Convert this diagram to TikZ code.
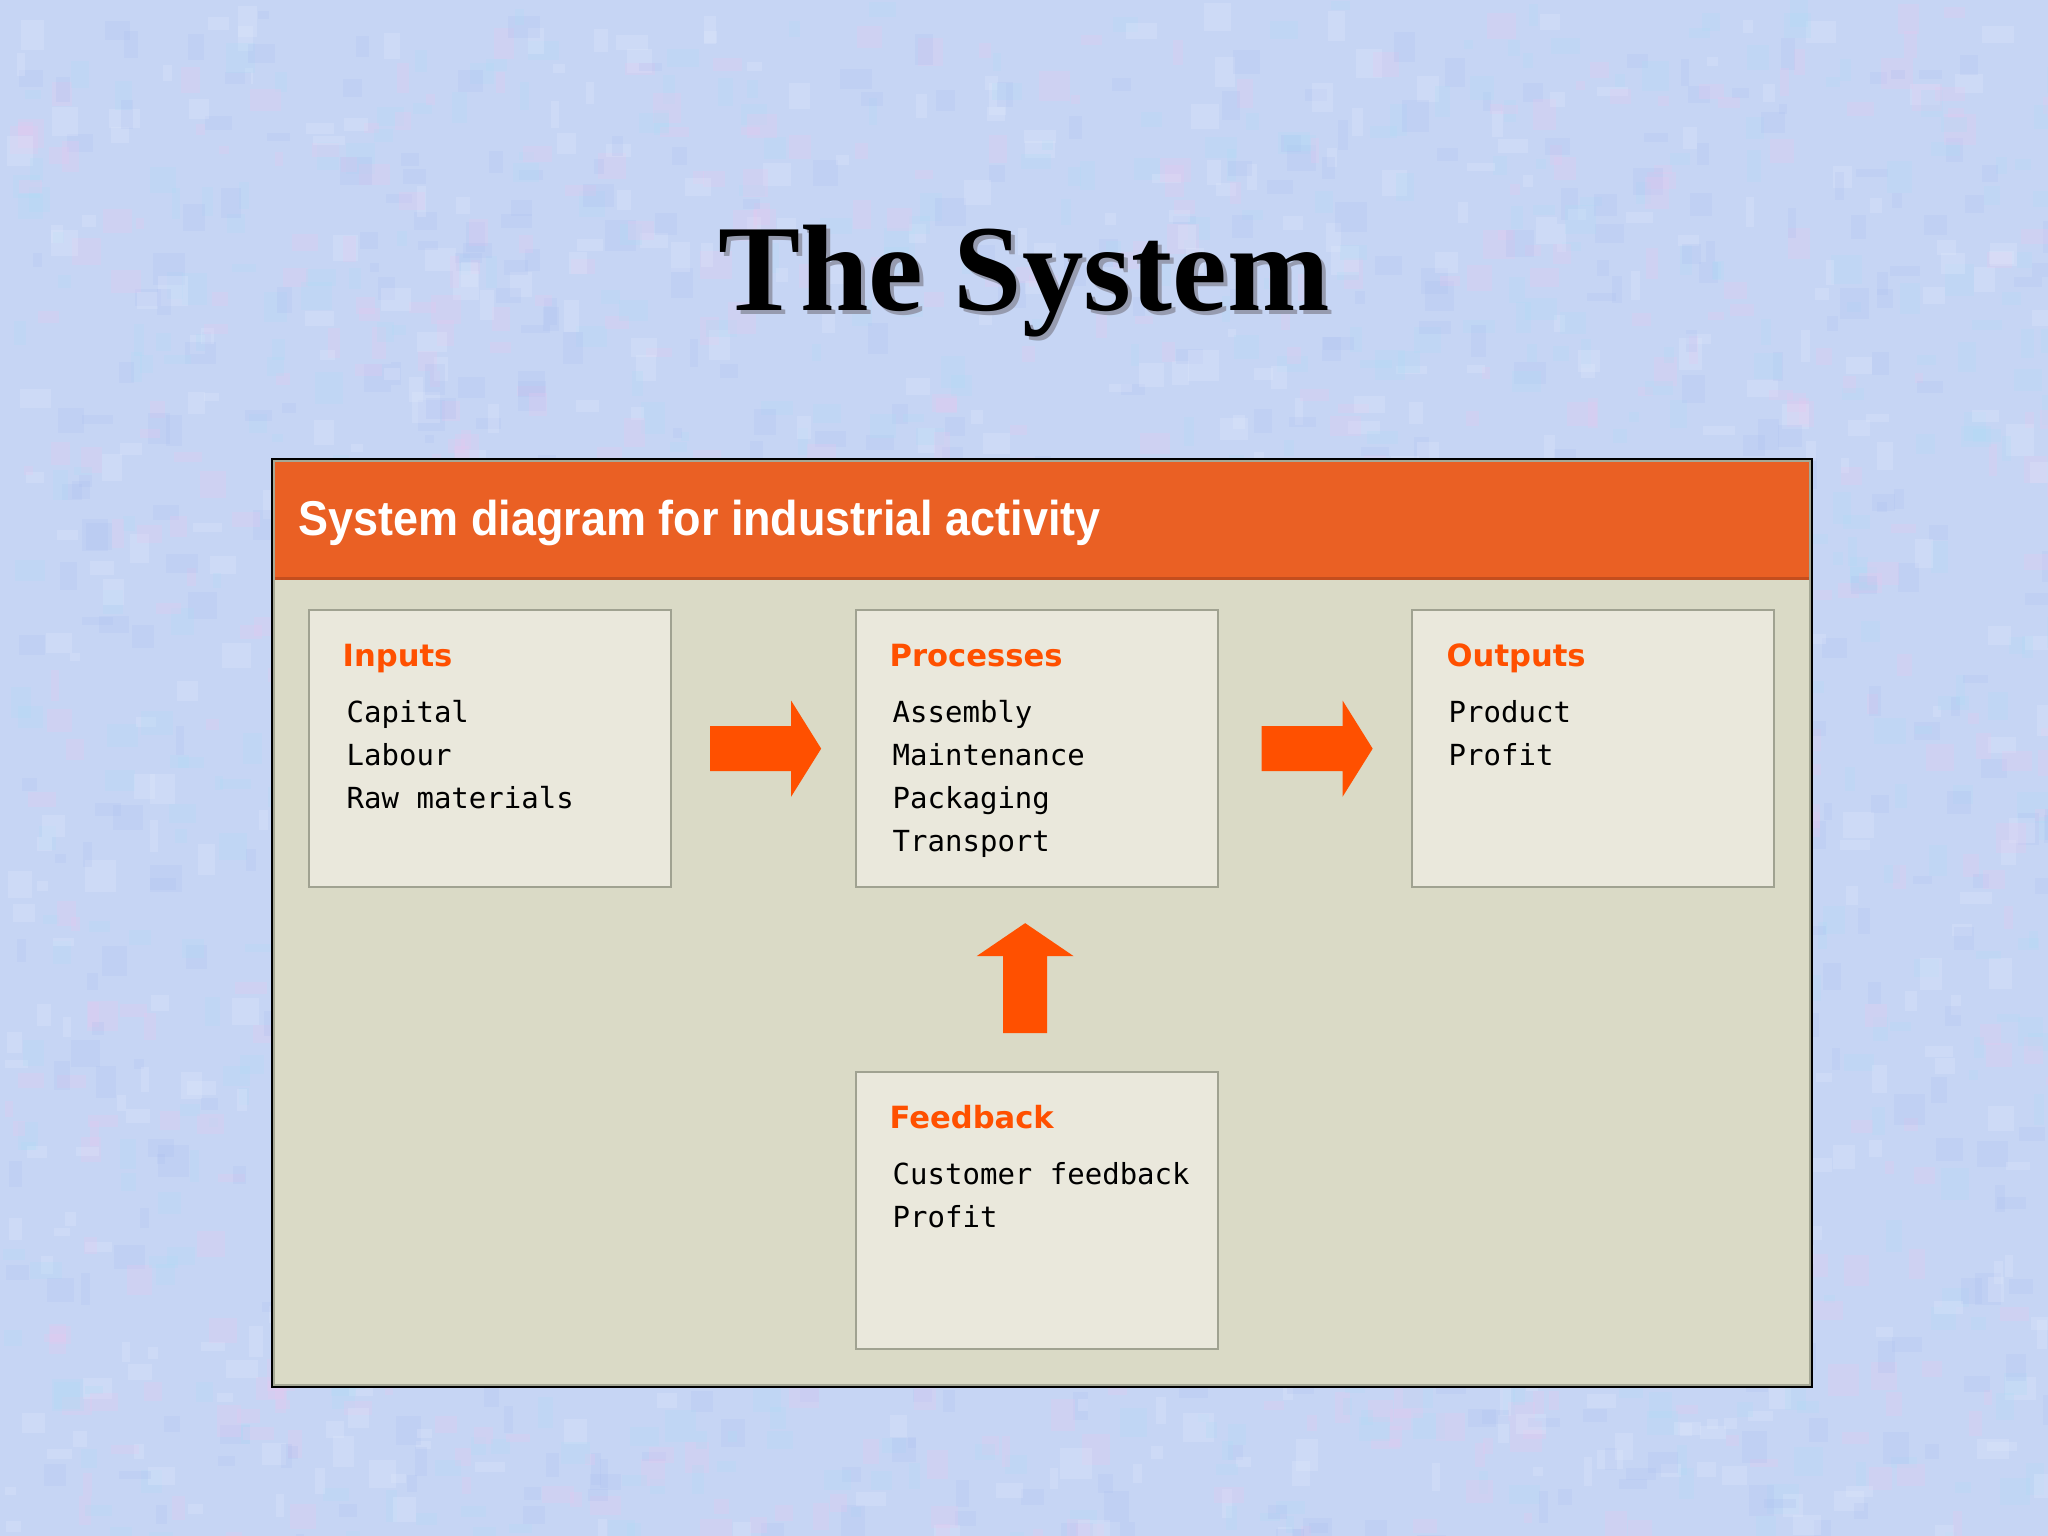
\documentclass[tikz,border=0pt]{standalone}
\usepackage{fontspec}
\usetikzlibrary{calc}
\newfontfamily\titlefam{Liberation Serif}
\newfontfamily\hdrfam{Liberation Sans}
\newfontfamily\headfam{DejaVu Sans}
\newfontfamily\itemfam{DejaVu Sans Mono}
\definecolor{bgcol}{RGB}{198,213,244}
\definecolor{texA}{RGB}{232,200,240}
\definecolor{texB}{RGB}{175,220,245}
\definecolor{texC}{RGB}{170,188,240}
\definecolor{texD}{RGB}{228,234,252}
\definecolor{hdrcol}{RGB}{234,96,36}
\definecolor{hdrline}{RGB}{196,78,30}
\definecolor{panelcol}{RGB}{218,218,198}
\definecolor{panelin}{RGB}{165,168,150}
\definecolor{boxfill}{RGB}{234,232,220}
\definecolor{boxline}{RGB}{160,162,145}
\definecolor{orangetxt}{RGB}{255,80,0}
\definecolor{arrowcol}{RGB}{255,80,0}
\definecolor{shadowcol}{RGB}{150,155,175}
\begin{document}
\begin{tikzpicture}[x=0.01cm,y=-0.01cm,
  sbox/.style={draw=boxline, fill=boxfill, line width=0.6pt, minimum width=3.62cm, minimum height=2.77cm, inner sep=0pt, anchor=north west},
  headtxt/.style={anchor=base west, inner sep=0pt, text=orangetxt, font=\headfam\bfseries\fontsize{8.7}{10}\selectfont},
  itemtxt/.style={anchor=base west, inner sep=0pt, text=black, font=\itemfam\fontsize{8.25}{10}\selectfont},
  arrowfill/.style={fill=arrowcol, draw=none}]
\useasboundingbox (0,0) rectangle (2048,1536);
\fill[bgcol] (0,0) rectangle (2048,1536);
\pgfmathsetseed{11}
\foreach \i in {1,...,2600}{
  \pgfmathsetmacro{\rx}{random(0,2048)}
  \pgfmathsetmacro{\ry}{random(0,1536)}
  \pgfmathsetmacro{\rw}{random(8,32)}
  \pgfmathsetmacro{\rh}{random(8,32)}
  \pgfmathtruncatemacro{\rc}{random(1,4)}
  \ifcase\rc\or
    \fill[texA, opacity=0.25] (\rx,\ry) rectangle ++(\rw,\rh);
  \or
    \fill[texB, opacity=0.25] (\rx,\ry) rectangle ++(\rw,\rh);
  \or
    \fill[texC, opacity=0.2] (\rx,\ry) rectangle ++(\rw,\rh);
  \or
    \fill[texD, opacity=0.25] (\rx,\ry) rectangle ++(\rw,\rh);
  \fi
}
% title
\node[anchor=base, inner sep=0pt, text=shadowcol, font=\titlefam\bfseries\fontsize{35}{40}\selectfont] (titleshadow) at (1028,314) {The System};
\node[anchor=base, inner sep=0pt, text=black, font=\titlefam\bfseries\fontsize{35}{40}\selectfont] (title) at (1024,310) {The System};
% panel
\node[fill=panelcol, draw=none, minimum width=15.38cm, minimum height=9.26cm, inner sep=0pt, anchor=north west] (panel) at (272,459) {};
\node[fill=hdrcol, draw=none, minimum width=15.38cm, minimum height=1.18cm, inner sep=0pt, anchor=north west] (header) at (panel.north west) {};
\draw[hdrline, line width=0.6pt] (header.south west) -- (header.south east);
\draw[panelin, line width=0.6pt] ($(panel.north west)+(2,2)$) rectangle ($(panel.south east)+(-2,-2)$);
\draw[black, line width=0.6pt] (panel.north west) rectangle (panel.south east);
\node[anchor=base west, inner sep=0pt, text=white, font=\hdrfam\bfseries\fontsize{13.9}{16}\selectfont] (htxt) at (298,535) {\scalebox{0.92}[1]{System diagram for industrial activity}};
% boxes
\node[sbox] (inputs) at (308,609) {};
\node[sbox] (proc) at (855,609) {};
\node[sbox] (outputs) at (1411,609) {};
\node[sbox] (fb) at (855,1071) {};
% texts
\node[headtxt] (inputsH) at ($(inputs.north west)+(34,57)$) {Inputs};
\node[itemtxt] (in1) at ($(inputs.north west)+(38,113)$) {Capital};
\node[itemtxt] (in2) at ($(inputs.north west)+(38,156)$) {Labour};
\node[itemtxt] (in3) at ($(inputs.north west)+(38,199)$) {Raw materials};
\node[headtxt] (procH) at ($(proc.north west)+(34,57)$) {Processes};
\node[itemtxt] (pr1) at ($(proc.north west)+(37,113)$) {Assembly};
\node[itemtxt] (pr2) at ($(proc.north west)+(37,156)$) {Maintenance};
\node[itemtxt] (pr3) at ($(proc.north west)+(37,199)$) {Packaging};
\node[itemtxt] (pr4) at ($(proc.north west)+(37,242)$) {Transport};
\node[headtxt] (outH) at ($(outputs.north west)+(35,57)$) {Outputs};
\node[itemtxt] (ou1) at ($(outputs.north west)+(37,113)$) {Product};
\node[itemtxt] (ou2) at ($(outputs.north west)+(37,156)$) {Profit};
\node[headtxt] (fbH) at ($(fb.north west)+(34,57)$) {Feedback};
\node[itemtxt] (fb1) at ($(fb.north west)+(37,113)$) {Customer feedback};
\node[itemtxt] (fb2) at ($(fb.north west)+(37,156)$) {Profit};
% arrows
\coordinate (a1) at ($(inputs.east)!0.5!(proc.west)$);
\coordinate (a2) at ($(proc.east)!0.5!(outputs.west)$);
\coordinate (a3) at ($($(proc.south)!0.5!(fb.north)$)+(-12,0)$);
\foreach \c in {a1,a2}{
  \fill[arrowfill] ($(\c)+(-53.5,-22.5)$) -- ($(\c)+(27.5,-22.5)$) -- ($(\c)+(27.5,-48)$) -- ($(\c)+(57.5,0)$) -- ($(\c)+(27.5,48)$) -- ($(\c)+(27.5,22.5)$) -- ($(\c)+(-53.5,22.5)$) -- cycle;
}
\fill[arrowfill] ($(a3)+(-22,53.5)$) -- ($(a3)+(-22,-23.5)$) -- ($(a3)+(-48.5,-23.5)$) -- ($(a3)+(0,-56.5)$) -- ($(a3)+(48.5,-23.5)$) -- ($(a3)+(22,-23.5)$) -- ($(a3)+(22,53.5)$) -- cycle;
\end{tikzpicture}
\end{document}
